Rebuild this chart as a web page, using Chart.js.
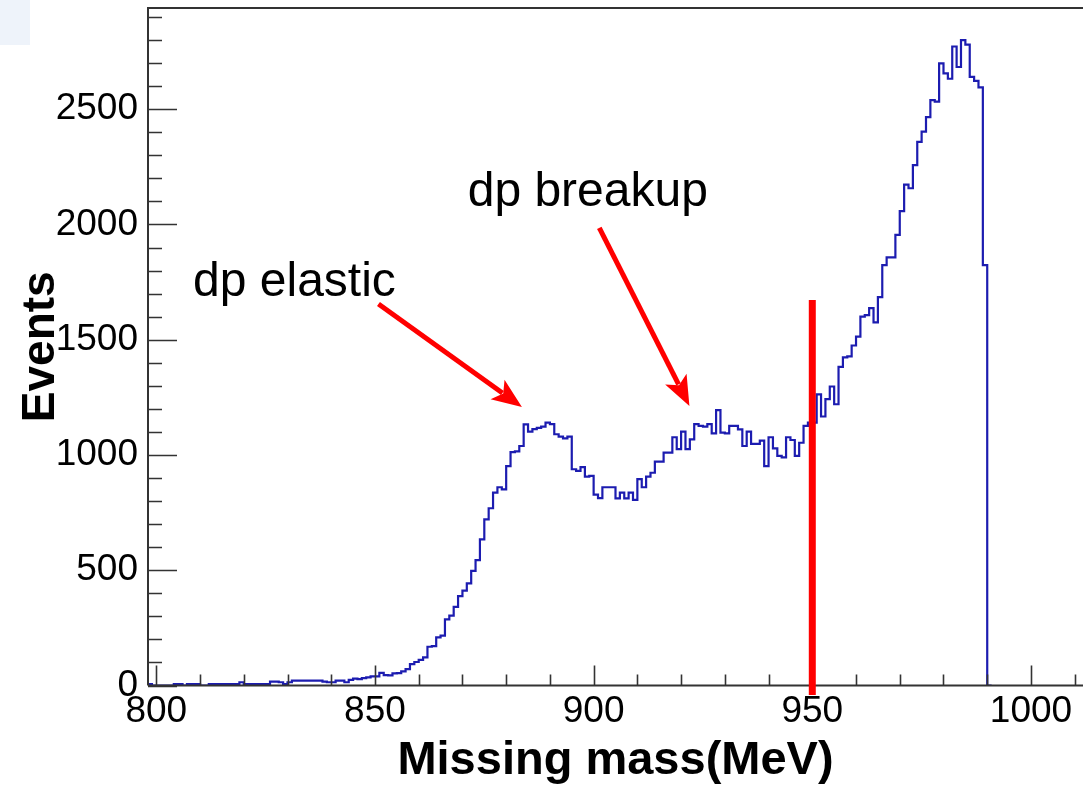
<!DOCTYPE html>
<html><head><meta charset="utf-8">
<script src="https://cdn.jsdelivr.net/npm/chart.js@4"></script>
<style>html,body{margin:0;padding:0;background:#fff;overflow:hidden}canvas{display:block}</style>
</head><body>
<canvas id="c" width="1083" height="789"></canvas>
<script>
// ---- data (1 MeV bins, low edge of first bin = 798 MeV) ----
const firstBinLowEdge = 798;
const binWidth = 1;
const events = [
  0, 6, 0, 0, 0, 0, 0, 6, 6, 0, 6, 6, 6, 0, 0, 6, 6, 6, 6, 6,          // 798-817
  6, 6, 14, 6, 6, 6, 6, 6, 6, 17, 17, 14, 6, 14, 21, 21, 21, 21, 21, 21, // 818-837
  21, 17, 14, 14, 21, 21, 14, 24, 30, 28, 32, 35, 40, 40, 55, 45, 44, 53, 54, 61, // 838-857
  71, 93, 102, 111, 122, 168, 171, 209, 216, 287, 303, 341, 388, 412, 443, 497, 544, 634, 721, 769, // 858-877
  837, 860, 851, 952, 1012, 1016, 1039, 1133, 1101, 1112, 1118, 1123, 1140, 1134, 1090, 1080, 1072, 1080, 938, 931, // 878-897
  947, 906, 909, 828, 813, 860, 860, 860, 812, 837, 812, 837, 805, 895, 860, 906, 923, 971, 971, 1010, // 898-917
  1010, 1077, 1025, 1101, 1025, 1068, 1134, 1126, 1123, 1134, 1094, 1195, 1097, 1094, 1126, 1126, 1111, 1039, 1101, 1048, // 918-937
  1048, 1062, 952, 1077, 1029, 996, 990, 1077, 1065, 996, 1053, 1126, 1140, 1140, 1263, 1167, 1242, 1297, 1220, 1382, // 938-957
  1423, 1428, 1475, 1513, 1600, 1607, 1637, 1575, 1685, 1824, 1857, 1857, 1955, 2058, 2173, 2157, 2257, 2358, 2403, 2466, // 958-977
  2539, 2533, 2699, 2655, 2632, 2772, 2683, 2800, 2780, 2640, 2623, 2595, 1824 // 978-990
];
const xTickLabels = [800, 850, 900, 950, 1000];
const yTickLabels = [0, 500, 1000, 1500, 2000, 2500];
const xMinorStep = 10;
const yMinorStep = 100;
const cutMeV = 950;
const cutEvents = [-41, 1672];
const textNotes = [
  { text: 'dp elastic', x: 808.4, y: 1690 },
  { text: 'dp breakup', x: 871.2, y: 2080 }
];
const arrowNotes = [
  { from: [850.8, 1655], to: [883.6, 1208] },
  { from: [901.3, 1985], to: [921.9, 1213] }
];

// histogram outline points (low edges + closing edge)
const histPoints = events.map((v, i) => ({ x: firstBinLowEdge + i * binWidth, y: v }));
histPoints.push({ x: firstBinLowEdge + events.length * binWidth, y: 0 });

Chart.defaults.font.family = '"Liberation Sans", Arial, sans-serif';
Chart.defaults.color = '#000';

const framePlugin = {
  id: 'frameTicks',
  beforeDraw(chart) {
    const ctx = chart.ctx;
    ctx.save();
    ctx.fillStyle = '#ffffff';
    ctx.fillRect(0, 0, chart.width, chart.height);
    ctx.fillStyle = '#eef3fa';
    ctx.fillRect(0, 0, 30, 45);
    ctx.restore();
  },
  afterDatasetDraw(chart, args) {
    if (args.index !== 0) return;
    const { ctx, chartArea: a, scales: { x, y } } = chart;
    ctx.save();
    ctx.strokeStyle = '#333';
    ctx.lineWidth = 1.6;
    ctx.beginPath();
    x.ticks.forEach(t => {
      const v = Math.round(t.value);
      const px = Math.round(x.getPixelForValue(v)) + 0.5;
      const len = xTickLabels.includes(v) ? 20 : 11;
      ctx.moveTo(px, a.bottom); ctx.lineTo(px, a.bottom - len);
    });
    y.ticks.forEach(t => {
      const v = Math.round(t.value);
      const py = Math.round(y.getPixelForValue(v)) + 0.5;
      const len = yTickLabels.includes(v) ? 29 : 14;
      ctx.moveTo(a.left, py); ctx.lineTo(a.left + len, py);
    });
    ctx.stroke();
    ctx.lineWidth = 2;
    ctx.beginPath();
    ctx.moveTo(a.left, a.bottom); ctx.lineTo(a.left, a.top); ctx.lineTo(a.right + 2, a.top);
    ctx.moveTo(a.left, a.bottom); ctx.lineTo(a.right + 2, a.bottom);
    ctx.stroke();
    ctx.restore();
  },
  afterDraw(chart) {
    const { ctx, scales: { x, y } } = chart;
    ctx.save();
    ctx.fillStyle = '#000';
    ctx.font = '48px "Liberation Sans", Arial, sans-serif';
    ctx.textBaseline = 'alphabetic';
    ctx.textAlign = 'left';
    textNotes.forEach(n => ctx.fillText(n.text, x.getPixelForValue(n.x), y.getPixelForValue(n.y)));
    ctx.strokeStyle = '#ff0000';
    ctx.fillStyle = '#ff0000';
    ctx.lineWidth = 5;
    ctx.lineCap = 'butt';
    arrowNotes.forEach(ar => {
      const x0 = x.getPixelForValue(ar.from[0]), y0 = y.getPixelForValue(ar.from[1]);
      const x1 = x.getPixelForValue(ar.to[0]), y1 = y.getPixelForValue(ar.to[1]);
      const ang = Math.atan2(y1 - y0, x1 - x0);
      const headLen = 30, headHalf = 12;
      const bx = x1 - headLen * Math.cos(ang), by = y1 - headLen * Math.sin(ang);
      ctx.beginPath();
      ctx.moveTo(x0, y0);
      ctx.lineTo(bx + 6 * Math.cos(ang), by + 6 * Math.sin(ang));
      ctx.stroke();
      ctx.beginPath();
      ctx.moveTo(x1, y1);
      ctx.lineTo(bx - headHalf * Math.sin(ang), by + headHalf * Math.cos(ang));
      ctx.lineTo(bx + 7 * Math.cos(ang), by + 7 * Math.sin(ang));
      ctx.lineTo(bx + headHalf * Math.sin(ang), by - headHalf * Math.cos(ang));
      ctx.closePath();
      ctx.fill();
    });
    ctx.restore();
  }
};

new Chart(document.getElementById('c'), {
  type: 'line',
  data: {
    datasets: [
      {
        label: 'Missing mass',
        data: histPoints,
        stepped: 'after',
        borderColor: '#1c1cb0',
        borderWidth: 2.2,
        pointRadius: 0,
        fill: false,
        order: 1
      },
      {
        label: 'cut',
        data: [{ x: cutMeV, y: cutEvents[0] }, { x: cutMeV, y: cutEvents[1] }],
        borderColor: '#ff0000',
        borderWidth: 7,
        borderCapStyle: 'butt',
        pointRadius: 0,
        fill: false,
        clip: false,
        order: 0
      }
    ]
  },
  plugins: [framePlugin],
  options: {
    responsive: false,
    animation: false,
    devicePixelRatio: 1,
    layout: { padding: { top: 8, left: 0, right: 0, bottom: 0 } },
    plugins: { legend: { display: false }, tooltip: { enabled: false } },
    scales: {
      x: {
        type: 'linear',
        min: 798.1,
        max: 1011.9,
        grid: { display: false, drawTicks: false },
        border: { display: false },
        ticks: {
          stepSize: xMinorStep,
          includeBounds: false,
          autoSkip: false,
          maxRotation: 0,
          minRotation: 0,
          padding: 4,
          font: { size: 37 },
          color: '#000',
          callback: v => xTickLabels.includes(Math.round(v)) ? String(Math.round(v)) : ''
        },
        title: {
          display: true,
          text: 'Missing mass(MeV)',
          font: { size: 47, weight: 'bold' },
          color: '#000',
          padding: { top: 0, bottom: 0 }
        },
        afterFit: s => { s.height = 103.5; s.paddingLeft = 0; s.paddingRight = 0; }
      },
      y: {
        type: 'linear',
        min: 0,
        max: 2939,
        grid: { display: false, drawTicks: false },
        border: { display: false },
        ticks: {
          stepSize: yMinorStep,
          includeBounds: false,
          autoSkip: false,
          padding: 10,
          font: { size: 37 },
          color: '#000',
          callback: v => yTickLabels.includes(Math.round(v)) ? String(Math.round(v)) : ''
        },
        title: {
          display: true,
          text: 'Events',
          font: { size: 46, weight: 'bold' },
          color: '#000',
          padding: { top: 14, bottom: 0 }
        },
        afterFit: s => { s.width = 148; s.paddingTop = 0; s.paddingBottom = 0; }
      }
    }
  }
});
</script>
</body></html>
